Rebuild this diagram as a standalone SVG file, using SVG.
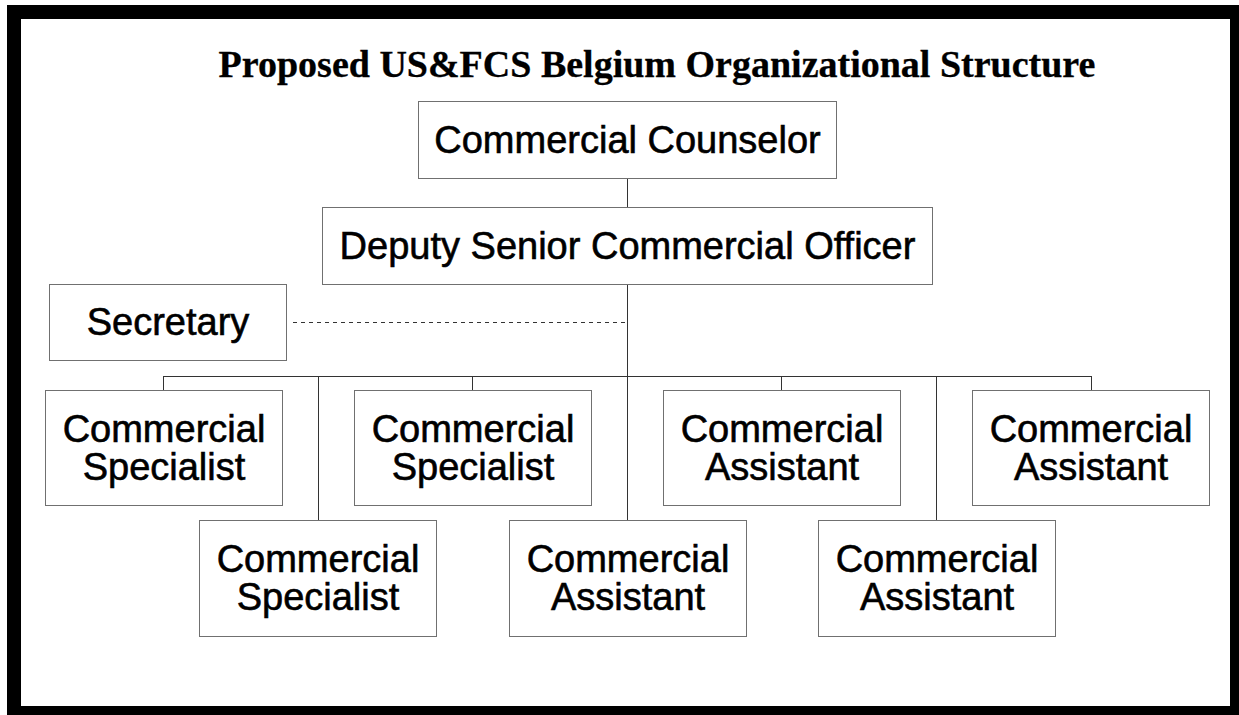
<svg xmlns="http://www.w3.org/2000/svg" width="1239" height="715" viewBox="0 0 1239 715">
  <style>
    .box { fill: #ffffff; stroke: #707070; stroke-width: 1; }
    .lbl { font-family: "Liberation Sans", Arial, sans-serif; font-size: 38px; fill: #000000; stroke: #000000; stroke-width: 0.6; text-anchor: middle; }
    .title { font-family: "Liberation Serif", "Times New Roman", serif; font-size: 38px; font-weight: bold; fill: #000000; stroke: #000000; stroke-width: 0.3; text-anchor: middle; }
    .conn { fill: none; stroke: #333333; stroke-width: 1; }
    .dash { fill: none; stroke: #333333; stroke-width: 1; stroke-dasharray: 4 4; }
  </style>

  <!-- page background and heavy frame -->
  <rect x="0" y="0" width="1239" height="715" fill="#ffffff"/>
  <rect x="14" y="12" width="1223" height="701" fill="none" stroke="#000000" stroke-width="14"/>

  <text class="title" x="657" y="77">Proposed US&amp;FCS Belgium Organizational Structure</text>

  <!-- connectors -->
  <g id="connectors">
    <line class="conn" x1="627.5" y1="178" x2="627.5" y2="207"/>
    <line class="conn" x1="627.5" y1="284" x2="627.5" y2="520"/>
    <line class="dash" x1="293" y1="322.5" x2="627" y2="322.5"/>
    <line class="conn" x1="163.5" y1="376.5" x2="1091.5" y2="376.5"/>
    <line class="conn" x1="163.5" y1="376" x2="163.5" y2="390"/>
    <line class="conn" x1="318.5" y1="376" x2="318.5" y2="520"/>
    <line class="conn" x1="472.5" y1="376" x2="472.5" y2="390"/>
    <line class="conn" x1="781.5" y1="376" x2="781.5" y2="390"/>
    <line class="conn" x1="936.5" y1="376" x2="936.5" y2="520"/>
    <line class="conn" x1="1091.5" y1="376" x2="1091.5" y2="390"/>
  </g>

  <g id="counselor">
    <rect class="box" x="418.5" y="101.5" width="418" height="77"/>
    <text class="lbl" x="627.5" y="153">Commercial Counselor</text>
  </g>

  <g id="deputy">
    <rect class="box" x="322.5" y="207.5" width="610" height="77"/>
    <text class="lbl" x="627.5" y="259">Deputy Senior Commercial Officer</text>
  </g>

  <g id="secretary">
    <rect class="box" x="49.5" y="284.5" width="237" height="76"/>
    <text class="lbl" x="168" y="335">Secretary</text>
  </g>

  <g id="specialist-1">
    <rect class="box" x="45.5" y="390.5" width="237" height="115"/>
    <text class="lbl" x="164" y="441.5">Commercial</text>
    <text class="lbl" x="164" y="480">Specialist</text>
  </g>

  <g id="specialist-2">
    <rect class="box" x="354.5" y="390.5" width="237" height="115"/>
    <text class="lbl" x="473" y="441.5">Commercial</text>
    <text class="lbl" x="473" y="480">Specialist</text>
  </g>

  <g id="assistant-1">
    <rect class="box" x="663.5" y="390.5" width="237" height="115"/>
    <text class="lbl" x="782" y="441.5">Commercial</text>
    <text class="lbl" x="782" y="480">Assistant</text>
  </g>

  <g id="assistant-2">
    <rect class="box" x="972.5" y="390.5" width="237" height="115"/>
    <text class="lbl" x="1091" y="441.5">Commercial</text>
    <text class="lbl" x="1091" y="480">Assistant</text>
  </g>

  <g id="specialist-3">
    <rect class="box" x="199.5" y="520.5" width="237" height="116"/>
    <text class="lbl" x="318" y="572">Commercial</text>
    <text class="lbl" x="318" y="610">Specialist</text>
  </g>

  <g id="assistant-3">
    <rect class="box" x="509.5" y="520.5" width="237" height="116"/>
    <text class="lbl" x="628" y="572">Commercial</text>
    <text class="lbl" x="628" y="610">Assistant</text>
  </g>

  <g id="assistant-4">
    <rect class="box" x="818.5" y="520.5" width="237" height="116"/>
    <text class="lbl" x="937" y="572">Commercial</text>
    <text class="lbl" x="937" y="610">Assistant</text>
  </g>
</svg>
